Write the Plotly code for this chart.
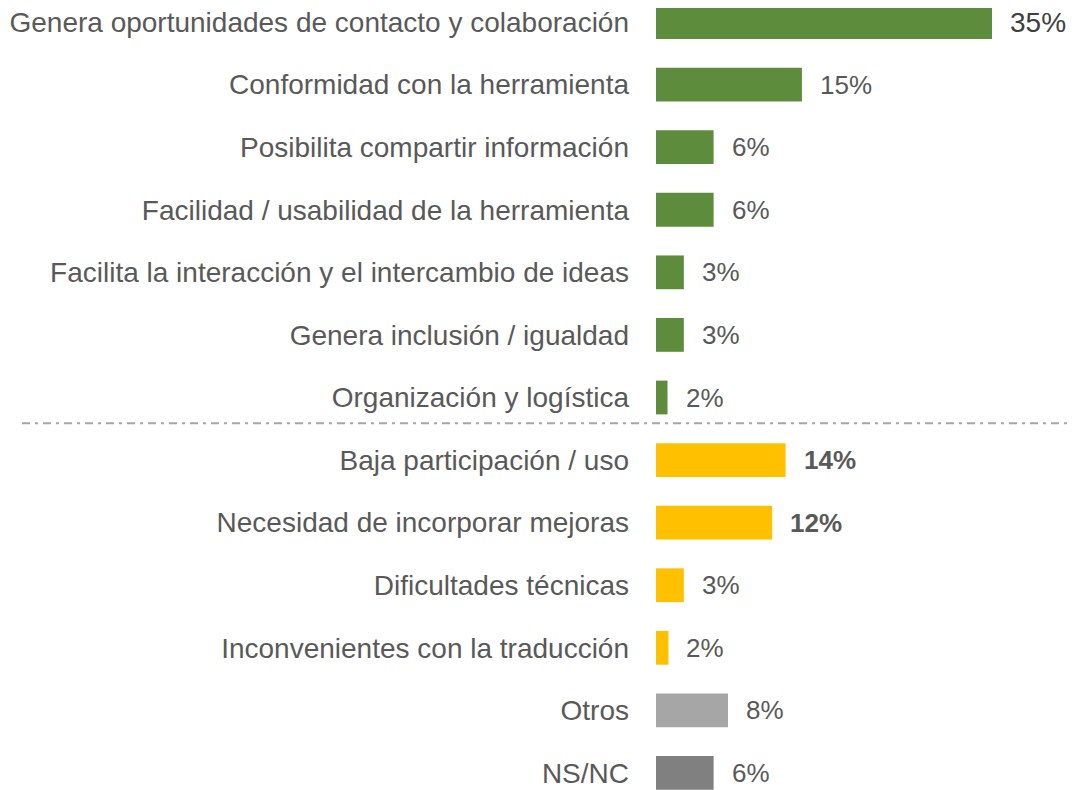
import plotly.graph_objects as go

categories = [
    "Genera oportunidades de contacto y colaboración",
    "Conformidad con la herramienta",
    "Posibilita compartir información",
    "Facilidad / usabilidad de la herramienta",
    "Facilita la interacción y el intercambio de ideas",
    "Genera inclusión / igualdad",
    "Organización y logística",
    "Baja participación / uso",
    "Necesidad de incorporar mejoras",
    "Dificultades técnicas",
    "Inconvenientes con la traducción",
    "Otros",
    "NS/NC",
]
values = [35.0, 15.2, 6.0, 6.0, 2.9, 2.9, 1.2, 13.5, 12.1, 2.9, 1.3, 7.5, 6.0]
value_labels = ["35%", "15%", "6%", "6%", "3%", "3%", "2%", "14%", "12%", "3%", "2%", "8%", "6%"]
groups = ["pos"] * 7 + ["neg"] * 4 + ["otros", "nsnc"]

group_colors = {"pos": "#5E8C3D", "neg": "#FFC000", "otros": "#A6A6A6", "nsnc": "#808080"}
colors = [group_colors[g] for g in groups]
bold_labels = {"14%", "12%"}

FONT = "Liberation Sans"
TXT = "#595959"

fig = go.Figure()
fig.add_trace(go.Bar(
    x=values, y=categories, orientation="h",
    marker=dict(color=colors, line=dict(width=0)),
    width=0.54, hoverinfo="skip",
))

for cat, v, lab in zip(categories, values, value_labels):
    txt = f"<b>{lab}</b>" if lab in bold_labels else lab
    col = "#404040" if lab == "35%" else TXT
    size = 28 if lab == "35%" else 26
    fig.add_annotation(x=v, y=cat, text=txt, showarrow=False, xanchor="left",
                       xshift=16, font=dict(family=FONT, size=size, color=col))

# separator between groups
fig.add_shape(type="line", xref="paper", yref="y", x0=(14 - 648) / 420, x1=1.05, y0=6.41, y1=6.41,
              line=dict(color="#A6A6A6", width=2, dash="8px,5px,3px,5px"))

fig.update_layout(
    width=1068, height=782,
    margin=dict(l=648, r=0, t=0, b=0),
    paper_bgcolor="white", plot_bgcolor="white",
    showlegend=False,
    font=dict(family=FONT, size=28, color=TXT),
    xaxis=dict(range=[0, 43.75], visible=False, fixedrange=True),
    yaxis=dict(
        categoryorder="array", categoryarray=categories,
        range=[12.272, -0.224], showgrid=False, zeroline=False, showline=False,
        ticks="", ticklabelstandoff=26, automargin=False,
        tickfont=dict(family=FONT, size=28, color=TXT),
    ),
)

fig.write_html("out.html")
